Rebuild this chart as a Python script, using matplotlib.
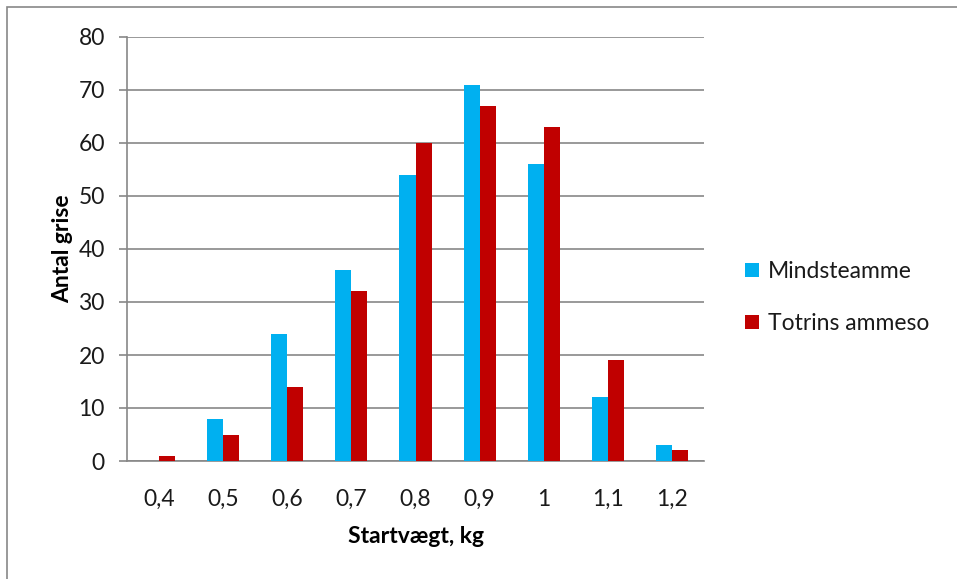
import numpy as np
import matplotlib.pyplot as plt
from matplotlib.patches import Rectangle

# data
kategorier = ['0,4', '0,5', '0,6', '0,7', '0,8', '0,9', '1', '1,1', '1,2']
mindsteamme = [0, 8, 24, 36, 54, 71, 56, 12, 3]
totrins = [1, 5, 14, 32, 60, 67, 63, 19, 2]

plt.rcParams['font.family'] = ['Lato', 'DejaVu Sans']
plt.rcParams['text.color'] = '#1a1a1a'
grey = '#878787'
fs = 16.5

fig = plt.figure(figsize=(9.57, 5.79), dpi=100)
# outer chart frame
fig.patches.append(Rectangle((7 / 957, -0.1), 1.2, 1 - 7 / 579 + 0.1, transform=fig.transFigure,
                             fill=False, edgecolor=grey, linewidth=1.2))
ax = fig.add_axes([127 / 957, 1 - 461 / 579, 577 / 957, 424 / 579])

x = np.arange(len(kategorier))
w = 0.25
ax.bar(x - w / 2, mindsteamme, w, color='#00B0F0', label='Mindsteamme', zorder=3)
ax.bar(x + w / 2, totrins, w, color='#C00000', label='Totrins ammeso', zorder=3)

ax.set_xlim(-0.5, len(kategorier) - 0.5)
ax.set_ylim(0, 80)
ax.set_yticks(range(0, 81, 10))
ax.set_xticks(x)
ax.set_xticklabels(kategorier)
ax.yaxis.grid(True, color=grey, linewidth=1.2, zorder=0)
ax.set_axisbelow(True)
for s in ['top', 'right']:
    ax.spines[s].set_visible(False)
for s in ['left', 'bottom']:
    ax.spines[s].set_color(grey)
    ax.spines[s].set_linewidth(1.2)
ax.tick_params(axis='y', length=6, color=grey, width=1.2, labelsize=fs, pad=10, labelcolor='#1a1a1a')
ax.tick_params(axis='x', length=0, labelsize=fs, pad=20, labelcolor='#1a1a1a')
ax.set_ylabel('Antal grise', fontsize=fs, fontweight='bold', labelpad=4)
ax.set_xlabel('Startvægt, kg', fontsize=fs, fontweight='bold', labelpad=12)

ax.legend(loc='center left', bbox_to_anchor=(1.035, 0.385), frameon=False, fontsize=fs,
          handlelength=0.6, handleheight=0.6, handletextpad=0.4, labelspacing=1.35)

fig.savefig('out.png', dpi=100)
